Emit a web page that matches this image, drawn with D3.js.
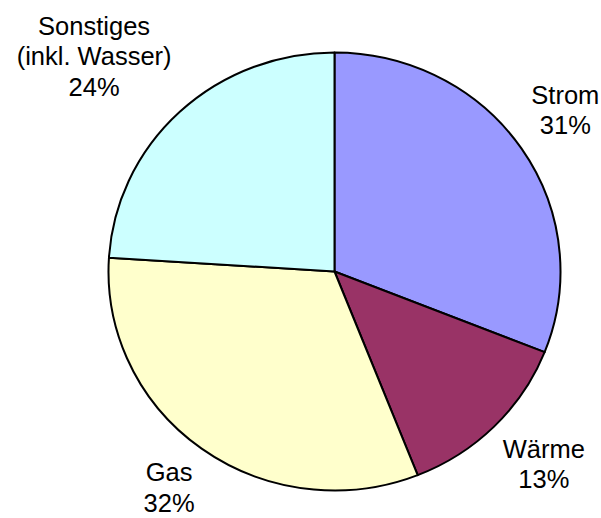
<!DOCTYPE html>
<html>
<head>
<meta charset="utf-8">
<script src="https://cdn.jsdelivr.net/npm/d3@7"></script>
<style>
  html, body { margin: 0; padding: 0; background: #fff; }
  svg { display: block; }
  text { font-family: "Liberation Sans", Arial, sans-serif; font-size: 25.5px; fill: #000; }
</style>
</head>
<body>
<svg id="chart" width="601" height="518"></svg>
<script>
// Anteile am Energieverbrauch (Prozent), im Uhrzeigersinn ab 12 Uhr
const categories = ["Strom", "Wärme", "Gas", "Sonstiges"];
const values = [31, 13, 32, 24];
const labelLines = [
  ["Strom"],
  ["Wärme"],
  ["Gas"],
  ["Sonstiges", "(inkl. Wasser)"]
];
const colors = ["#9999FF", "#993366", "#FFFFCC", "#CCFFFF"];

const svg = d3.select("#chart");
const cx = 334.5, cy = 271.5;   // Mittelpunkt
const rx = 226, ry = 219;        // leicht gestauchte Ellipse
const lineH = 30.5;

const pie = d3.pie().sort(null).value(d => d)(values);
const arc = d3.arc().innerRadius(0).outerRadius(rx);

const g = svg.append("g")
  .attr("transform", `translate(${cx},${cy}) scale(1,${ry / rx})`);

g.selectAll("path")
  .data(pie)
  .join("path")
  .attr("d", arc)
  .attr("fill", (d, i) => colors[i])
  .attr("stroke", "#000")
  .attr("stroke-width", 2)
  .attr("stroke-linejoin", "round")
  .attr("vector-effect", "non-scaling-stroke");

// Beschriftungen außerhalb: die dem Kreis nächste Ecke des Textblocks
// liegt auf dem Winkel der Segmentmitte, etwas außerhalb des Randes.
const gap = 12;
const measure = svg.append("text").attr("visibility", "hidden");
function textWidth(s) { measure.text(s); return measure.node().getComputedTextLength(); }

pie.forEach((d, i) => {
  const lines = labelLines[i].concat([values[i] + "%"]);
  const mid = (d.startAngle + d.endAngle) / 2;
  const s = Math.sin(mid), c = Math.cos(mid);
  const px = cx + (rx + gap) * s;
  const py = cy - (ry + gap) * c;
  const w = d3.max(lines, textWidth);
  const h = lines.length * lineH;
  const x0 = s >= 0 ? px : px - w;
  const y0 = c >= 0 ? py - h : py;
  const t = svg.append("text").attr("text-anchor", "middle");
  lines.forEach((ln, k) => {
    t.append("tspan")
      .attr("x", x0 + w / 2)
      .attr("y", y0 + 23 + k * lineH)
      .text(ln);
  });
});
measure.remove();
</script>
</body>
</html>
